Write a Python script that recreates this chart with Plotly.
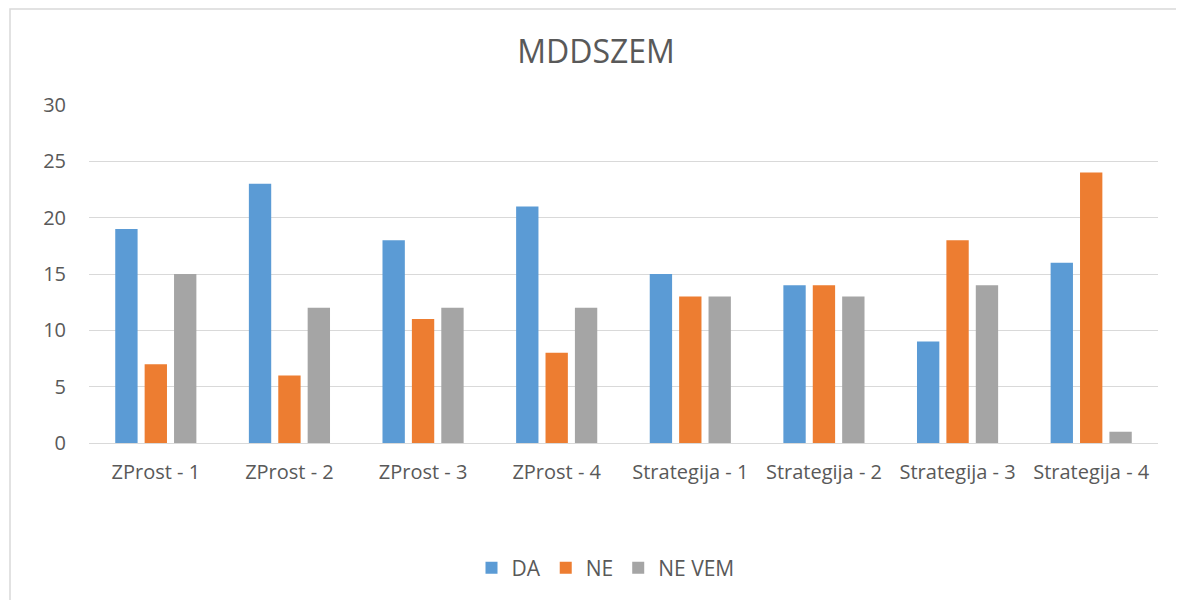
import plotly.graph_objects as go

categories = ["ZProst - 1", "ZProst - 2", "ZProst - 3", "ZProst - 4",
              "Strategija - 1", "Strategija - 2", "Strategija - 3", "Strategija - 4"]
da = [19, 23, 18, 21, 15, 14, 9, 16]
ne = [7, 6, 11, 8, 13, 14, 18, 24]
ne_vem = [15, 12, 12, 12, 13, 13, 14, 1]
series_names = ["DA", "NE", "NE VEM"]
colors = ["#5B9BD5", "#ED7D31", "#A5A5A5"]

fig = go.Figure()
for name, vals, c in zip(series_names, [da, ne, ne_vem], colors):
    fig.add_trace(go.Bar(x=categories, y=vals, name=name, marker_color=c,
                         marker_line_width=0))

W, H = 1176, 592
L, T, B = 81, 97, 157
R = W - 1150
PH = H - T - B
PW = W - L - R
font = "Open Sans, Liberation Sans, sans-serif"
fig.update_layout(
    width=W, height=H,
    margin=dict(l=L, r=R, t=T, b=B),
    paper_bgcolor="white", plot_bgcolor="white",
    barmode="group", bargap=0.34, bargroupgap=0.24,
    title=dict(text="MDDSZEM", x=0.5, xanchor="center", y=1 - 44 / H, yanchor="middle",
               font=dict(family=font, size=32, color="#595959")),
    font=dict(family=font, color="#595959", size=21),
    xaxis=dict(showgrid=False, showline=True, linecolor="#D9D9D9", linewidth=1,
               ticks="", tickfont=dict(size=20, color="#595959"),
               ticklabelstandoff=11),
    yaxis=dict(range=[0, 30], dtick=5, showgrid=True, gridcolor="#D9D9D9",
               gridwidth=1, zeroline=False, showline=False, ticks="",
               tickfont=dict(size=20, color="#595959"), ticklabelstandoff=22),
    legend=dict(orientation="h", x=0.5 - 18 / PW, xanchor="center", y=(435 - 560) / PH,
                yanchor="middle",
                font=dict(size=21, color="#595959"), itemwidth=30,
                traceorder="normal"),
    shapes=[dict(type="rect", xref="paper", yref="paper",
                 x0=(2 - L) / PW, x1=(1200 - L) / PW,
                 y0=(435 - 620) / PH, y1=(435 - 1) / PH,
                 line=dict(color="#D9D9D9", width=1.5), fillcolor="rgba(0,0,0,0)",
                 layer="below")],
)

fig.write_html("out.html")
